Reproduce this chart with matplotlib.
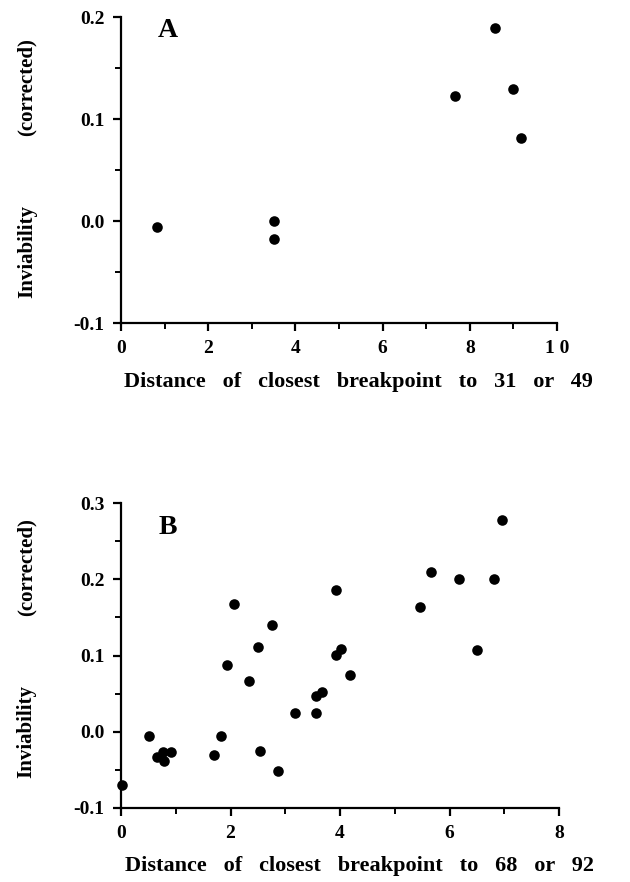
import matplotlib
matplotlib.use("Agg")
import matplotlib.pyplot as plt
from matplotlib.ticker import MultipleLocator, FixedLocator, FixedFormatter

# ---- Data ----
a_x = [0.83, 3.52, 3.52, 7.66, 8.57, 8.98, 9.17]
a_y = [-0.006, 0.000, -0.018, 0.123, 0.189, 0.129, 0.081]

b_x = [0.02, 0.52, 0.65, 0.76, 0.78, 0.91, 1.69, 1.83, 1.93, 2.07, 2.34, 2.51,
       2.53, 2.76, 2.86, 3.18, 3.57, 3.57, 3.67, 3.92, 3.92, 4.01, 4.19,
       5.47, 5.66, 6.17, 6.50, 6.81, 6.95]
b_y = [-0.070, -0.005, -0.033, -0.026, -0.039, -0.026, -0.030, -0.005, 0.087,
       0.168, 0.067, 0.111, -0.025, 0.140, -0.051, 0.024, 0.024, 0.047, 0.052,
       0.186, 0.101, 0.108, 0.075, 0.163, 0.210, 0.200, 0.107, 0.200, 0.278]

a_xticks = [0, 2, 4, 6, 8, 10]
a_xticklabels = ["0", "2", "4", "6", "8", "1 0"]
a_yticks = [-0.1, 0.0, 0.1, 0.2]
a_yticklabels = ["-0.1", "0.0", "0.1", "0.2"]

b_xticks = [0, 2, 4, 6, 8]
b_xticklabels = ["0", "2", "4", "6", "8"]
b_yticks = [-0.1, 0.0, 0.1, 0.2, 0.3]
b_yticklabels = ["-0.1", "0.0", "0.1", "0.2", "0.3"]

a_xlabel = "Distance   of   closest   breakpoint   to   31   or   49"
b_xlabel = "Distance   of   closest   breakpoint   to   68   or   92"
ylabel_words = ["Inviability", "(corrected)"]

plt.rcParams['font.family'] = ['Liberation Serif', 'DejaVu Serif']
plt.rcParams['font.weight'] = 'bold'

W, H = 630, 882
fig = plt.figure(figsize=(W / 100, H / 100), dpi=100)

def make_axes(rect, xs, ys, xt, xtl, yt, ytl, xlim, ylim, xlabel, letter,
              letter_pos, ylab_pos, xlab_y):
    ax = fig.add_axes(rect)
    ax.scatter(xs, ys, s=58, color='black', zorder=3, clip_on=False, linewidths=0)
    ax.set_xlim(*xlim)
    ax.set_ylim(*ylim)
    for s in ['top', 'right']:
        ax.spines[s].set_visible(False)
    for s in ['left', 'bottom']:
        ax.spines[s].set_linewidth(1.6)
    ax.xaxis.set_major_locator(FixedLocator(xt))
    ax.xaxis.set_major_formatter(FixedFormatter(xtl))
    ax.yaxis.set_major_locator(FixedLocator(yt))
    ax.yaxis.set_major_formatter(FixedFormatter(ytl))
    ax.xaxis.set_minor_locator(MultipleLocator(1))
    ax.yaxis.set_minor_locator(MultipleLocator(0.05))
    ax.tick_params(which='major', direction='out', length=6, width=1.6,
                   labelsize=14, pad=6)
    ax.tick_params(which='minor', direction='out', length=4, width=1.4)
    for lab in ax.get_xticklabels() + ax.get_yticklabels():
        lab.set_fontweight('bold')
    ax.text(0.545, xlab_y, xlabel, transform=ax.transAxes, ha='center',
            va='center', fontsize=16, fontweight='bold')
    for word, yp in zip(ylabel_words, ylab_pos):
        ax.text(-0.216, yp, word, transform=ax.transAxes, ha='center',
                va='center', rotation=90, fontsize=15, fontweight='bold')
    ax.text(letter_pos[0], letter_pos[1], letter, transform=ax.transAxes,
            ha='left', va='center', fontsize=20, fontweight='bold')
    return ax

make_axes([121 / W, 1 - 323 / H, 436 / W, 306 / H], a_x, a_y,
          a_xticks, a_xticklabels, a_yticks, a_yticklabels,
          (0, 10), (-0.1, 0.2), a_xlabel, "A", (0.085, 0.955),
          (0.235, 0.77), -0.193)

make_axes([121 / W, 1 - 808 / H, 438 / W, 305 / H], b_x, b_y,
          b_xticks, b_xticklabels, b_yticks, b_yticklabels,
          (0, 8), (-0.1, 0.3), b_xlabel, "B", (0.085, 0.92),
          (0.25, 0.79), -0.19)

fig.savefig("out.png", dpi=100)
